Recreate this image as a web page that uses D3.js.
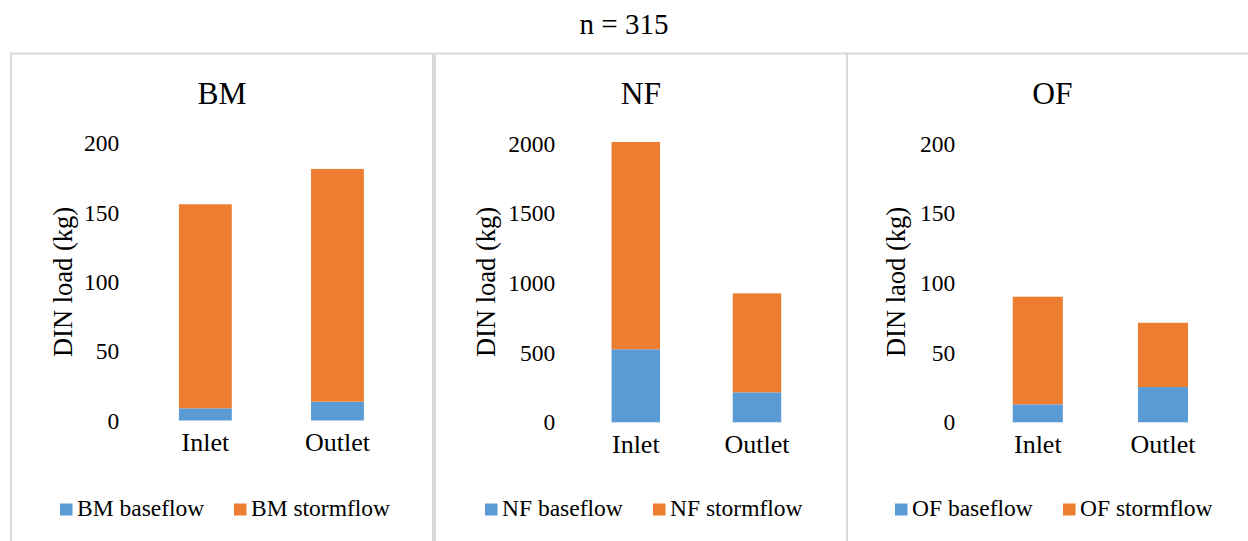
<!DOCTYPE html>
<html>
<head>
<meta charset="utf-8">
<script src="https://cdn.jsdelivr.net/npm/d3@7"></script>
</head>
<body style="margin:0">
<svg id="figure" width="1248" height="541"></svg>
<script>
// values
var categories = ["Inlet", "Outlet"];
var sites = ["BM", "NF", "OF"];
var bmBaseflow = [8.8, 13.6];
var bmStormflow = [147.2, 167.9];
var nfBaseflow = [524, 215];
var nfStormflow = [1487, 710];
var ofBaseflow = [12.9, 25.3];
var ofStormflow = [77.2, 46.1];
var bmTicks = [0, 50, 100, 150, 200];
var nfTicks = [0, 500, 1000, 1500, 2000];
var ofTicks = [0, 50, 100, 150, 200];
var yTitles = ["DIN load (kg)", "DIN load (kg)", "DIN laod (kg)"];
var seriesNames = ["baseflow", "stormflow"];
var chartTitle = "n = 315";

var colors = ["#5B9BD5", "#ED7D31"];

var svg = d3.select("#figure");

// panel layout (pixels)
var layout = [
    {box: [11, 433], plotX: [139.3, 403.5], plotY: [420.5, 143.3], titleX: 72, legend: [60, 234]},
    {box: [435, 847], plotX: [575.2, 817.6], plotY: [422.3, 143.5], titleX: 495, legend: [485, 653]},
    {box: [847, 1262], plotX: [975.2, 1225.6], plotY: [422.3, 143.5], titleX: 905, legend: [895, 1063]}
];

var panelData = [
    {base: bmBaseflow, storm: bmStormflow, ticks: bmTicks},
    {base: nfBaseflow, storm: nfStormflow, ticks: nfTicks},
    {base: ofBaseflow, storm: ofStormflow, ticks: ofTicks}
];

var setFont = function(sel, size)
{
    sel.attr("font-size", size)
        .attr("font-family", "Liberation Serif")
        .style("font-family", "'Liberation Serif'")
        .attr("fill", "#000");
}

var title = svg.append("text")
    .attr("x", 624)
    .attr("y", 34)
    .attr("text-anchor", "middle")
    .text(chartTitle);
setFont(title, 29);

var drawPanel = function(i)
{
    var lay = layout[i];
    var pd = panelData[i];
    var g = svg.append("g");

    g.append("rect")
        .attr("x", lay.box[0])
        .attr("y", 53.5)
        .attr("width", lay.box[1] - lay.box[0])
        .attr("height", 600)
        .attr("fill", "none")
        .attr("stroke", "#d9d9d9")
        .attr("stroke-width", 2);

    var rows = categories.map(function(c, j)
    {
        return {cat: c, base: pd.base[j], storm: pd.storm[j]};
    });
    var stacked = d3.stack().keys(["base", "storm"])(rows);

    var xScale = d3.scaleBand()
        .domain(categories)
        .range(lay.plotX)
        .paddingInner(0.6)
        .paddingOuter(0.3);
    var yScale = d3.scaleLinear()
        .domain([0, d3.max(pd.ticks)])
        .range(lay.plotY);

    g.selectAll("g.series")
        .data(stacked)
        .enter()
        .append("g")
        .attr("fill", function(s, k) { return colors[k]; })
        .selectAll("rect")
        .data(function(s) { return s; })
        .enter()
        .append("rect")
        .attr("x", function(d) { return xScale(d.data.cat); })
        .attr("width", xScale.bandwidth())
        .attr("y", function(d) { return yScale(d[1]); })
        .attr("height", function(d) { return yScale(d[0]) - yScale(d[1]); });

    var yAxis = g.append("g")
        .attr("transform", "translate(" + lay.plotX[0] + ",0)")
        .call(d3.axisLeft(yScale).tickValues(pd.ticks).tickFormat(d3.format("d"))
            .tickSize(0).tickPadding(20));
    yAxis.select(".domain").remove();
    setFont(yAxis, 23.5);
    setFont(yAxis.selectAll("text"), 23.5);

    var xAxis = g.append("g")
        .attr("transform", "translate(0," + lay.plotY[0] + ")")
        .call(d3.axisBottom(xScale).tickSize(0).tickPadding(12.5));
    xAxis.select(".domain").remove();
    setFont(xAxis, 26);
    setFont(xAxis.selectAll("text"), 26);

    var head = g.append("text")
        .attr("x", (lay.box[0] + Math.min(lay.box[1], 1258)) / 2)
        .attr("y", 104)
        .attr("text-anchor", "middle")
        .text(sites[i]);
    setFont(head, 31.5);

    var yTitle = g.append("text")
        .attr("transform", "translate(" + lay.titleX + ",282) rotate(-90)")
        .attr("text-anchor", "middle")
        .text(yTitles[i]);
    setFont(yTitle, 26.5);

    seriesNames.forEach(function(name, k)
    {
        var lx = lay.legend[k];
        g.append("rect")
            .attr("x", lx)
            .attr("y", 503.5)
            .attr("width", 12.5)
            .attr("height", 12)
            .attr("fill", colors[k]);
        var lt = g.append("text")
            .attr("x", lx + 17)
            .attr("y", 516)
            .text(sites[i] + " " + name);
        setFont(lt, 23.5);
    });
}

sites.forEach(function(s, i) { drawPanel(i); });
</script>
</body>
</html>
